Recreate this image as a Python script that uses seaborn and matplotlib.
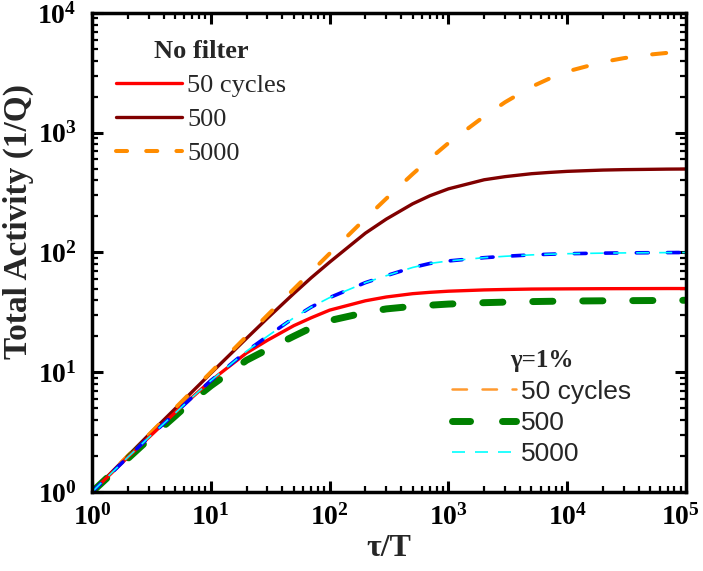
import math
import matplotlib
matplotlib.use("Agg")
import matplotlib.pyplot as plt
from matplotlib.lines import Line2D
from matplotlib.ticker import LogLocator, FuncFormatter, NullFormatter
from matplotlib.transforms import ScaledTranslation
import seaborn as sns
import pandas as pd

# ---- data ----
tau = [1, 2, 3, 5, 7, 10, 20, 30, 50, 70, 100, 200, 300, 500, 700, 1000,
       2000, 3000, 5000, 7000, 10000, 20000, 30000, 50000, 70000, 100000]

nf_50 = [1, 1.95, 2.85, 4.6, 6.2, 8.5, 14.5, 18.5, 24.5, 28.5, 33, 39.5, 42.5, 45.3,
         46.5, 47.5, 48.7, 49.1, 49.5, 49.6, 49.7, 49.85, 49.9, 49.95, 50, 50]
nf_500 = [1, 2, 3, 4.95, 6.9, 9.8, 19.2, 28.3, 45.5, 61.5, 83, 145, 190, 255, 298,
          340, 405, 430, 455, 466, 476, 488, 492, 495, 497, 498]
nf_5000 = [1, 2, 3, 5, 7, 10, 20, 30, 49.5, 69, 98, 192, 282, 452, 608, 820, 1370,
           1800, 2420, 2820, 3250, 3900, 4200, 4500, 4650, 4750]
g_500 = [1, 1.9, 2.75, 4.3, 5.8, 7.7, 12.6, 15.5, 20, 23.5, 27, 31.5, 33.8, 35.5,
         36.3, 37.1, 38.1, 38.5, 38.9, 39.1, 39.3, 39.5, 39.6, 39.7, 39.8, 39.9]
g_5000 = [1, 1.95, 2.85, 4.55, 6.2, 8.5, 15, 20, 28.5, 35, 42, 56, 64, 75, 81, 85,
          90.5, 93, 95.5, 96.7, 97.7, 98.8, 99.2, 99.6, 99.8, 100]

legend1_title = "No filter"
legend1_labels = ["50 cycles", "500", "5000"]
legend2_title = "γ=1%"
legend2_labels = ["50 cycles", "500", "5000"]

# ---- style ----
sns.set_style("ticks")
plt.rcParams["font.family"] = ["Liberation Serif", "DejaVu Serif"]
plt.rcParams["mathtext.fontset"] = "custom"
plt.rcParams["mathtext.rm"] = "Liberation Serif:bold"
plt.rcParams["mathtext.bf"] = "Liberation Serif:bold"
plt.rcParams["mathtext.it"] = "Liberation Serif:bold"

fig = plt.figure(figsize=(7.03, 5.71), dpi=100)
ax = fig.add_axes([0.1309, 0.1384, 0.8449, 0.8388])

df = pd.DataFrame({"tau": tau, "nf50": nf_50, "nf500": nf_500, "nf5000": nf_5000,
                   "g500": g_500, "g5000": g_5000})

def draw(col, color, lw, dashes=None, cap="round"):
    sns.lineplot(data=df, x="tau", y=col, ax=ax, color=color, linewidth=lw,
                 estimator=None, sort=False)
    ln = ax.get_lines()[-1]
    if dashes is not None:
        ln.set_dashes(dashes)
    ln.set_solid_capstyle("butt")
    ln.set_dash_capstyle(cap)
    return ln

draw("nf500", "#800000", 2.4)
draw("nf5000", "#FF8C00", 2.9, (3.5, 6.5))
draw("g500", "#008000", 5.0, (2.9, 4.3))
draw("nf50", "#FF0000", 2.4)
draw("g5000", "#0000FF", 2.6, (3.3, 5.3))
draw("g5000", "#00FFFF", 1.2, (7.8, 6.0), cap="butt")

ax.set_xscale("log")
ax.set_yscale("log")
ax.set_xlim(1, 1e5)
ax.set_ylim(1, 1e4)

fmt = FuncFormatter(lambda v, p: r"$\mathbf{10^{%d}}$" % round(math.log10(v)))
for axis in (ax.xaxis, ax.yaxis):
    axis.set_major_locator(LogLocator(base=10, numticks=10))
    axis.set_minor_locator(LogLocator(base=10, subs=range(2, 10), numticks=20))
    axis.set_major_formatter(fmt)
    axis.set_minor_formatter(NullFormatter())

ax.tick_params(which="both", direction="in", top=True, right=True, colors="black")
ax.tick_params(which="major", length=8, width=2.2, labelsize=20)
ax.tick_params(which="minor", length=4.5, width=1.6)
ax.tick_params(axis="x", which="major", pad=9)
ax.tick_params(axis="y", which="major", pad=11)
for s in ax.spines.values():
    s.set_linewidth(2.5)
    s.set_color("black")

ax.set_xlabel("τ/T", fontsize=23, fontweight="bold", labelpad=2)
ax.set_ylabel("Total Activity (1/Q)", fontsize=24, fontweight="bold")
ax.yaxis.set_label_coords(-0.098, 0.564)

# nudge the last x tick label (10^5) so it stays inside the canvas
fig.canvas.draw()
for t in ax.xaxis.get_major_ticks():
    if abs(t.get_loc() - 1e5) < 1:
        t.label1.set_transform(t.label1.get_transform() +
                               ScaledTranslation(-4 / 72, 0, fig.dpi_scale_trans))

# ---- legends ----
h1 = [Line2D([], [], color="#FF0000", lw=2.4),
      Line2D([], [], color="#800000", lw=2.4),
      Line2D([], [], color="#FF8C00", lw=2.9, dashes=(2.75, 4.75), dash_capstyle="round")]
leg1 = ax.legend(handles=h1, labels=legend1_labels, title=legend1_title,
                 loc="upper left", bbox_to_anchor=(0.031, 0.954), frameon=False,
                 prop={"family": "Liberation Serif", "size": 19},
                 title_fontproperties={"family": "Liberation Serif", "size": 19, "weight": "bold"},
                 handlelength=2.5, handletextpad=0.2, labelspacing=0.40,
                 borderpad=0.2, borderaxespad=0)
ax.add_artist(leg1)

h2 = [Line2D([], [], color="#FF9A30", lw=1.8, dashes=(5.8, 6.2), dash_capstyle="round"),
      Line2D([], [], color="#008000", lw=5.0, dashes=(2.6, 4.6), dash_capstyle="round"),
      Line2D([], [], color="#00FFFF", lw=1.2, dashes=(7.8, 6.0))]
leg2 = ax.legend(handles=h2, labels=legend2_labels, title=legend2_title,
                 loc="upper left", bbox_to_anchor=(0.598, 0.309), frameon=False,
                 prop={"family": "Liberation Sans", "size": 19},
                 title_fontproperties={"family": "Liberation Serif", "size": 18, "weight": "bold"},
                 handlelength=2.4, handletextpad=0.2, labelspacing=0.28,
                 borderpad=0.2, borderaxespad=0)

fig.savefig("out.png", dpi=100)
